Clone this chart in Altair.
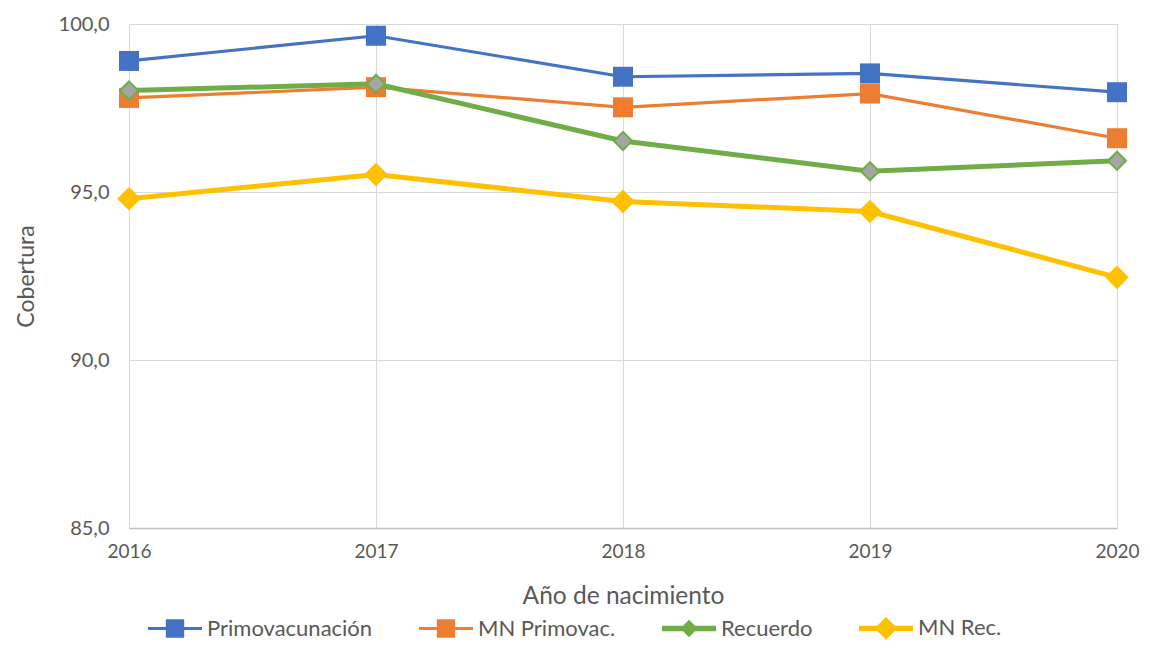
import altair as alt
import pandas as pd

years = [2016, 2017, 2018, 2019, 2020]
series_names = ["Primovacunación", "MN Primovac.", "Recuerdo", "MN Rec."]
primovacunacion = [98.9, 99.65, 98.43, 98.53, 97.97]
mn_primovac = [97.8, 98.12, 97.52, 97.93, 96.6]
recuerdo = [98.02, 98.22, 96.52, 95.62, 95.93]
mn_rec = [94.8, 95.52, 94.72, 94.42, 92.46]

values = [primovacunacion, mn_primovac, recuerdo, mn_rec]
colors = ["#4472C4", "#ED7D31", "#70AD47", "#FFC000"]
fills = ["#4472C4", "#ED7D31", "#A5A5A5", "#FFC000"]
shapes = ["square", "square", "diamond", "diamond"]
sizes = [400, 400, 330, 560]
widths = [3.2, 3.2, 5, 5]

rows = []
for name, vals in zip(series_names, values):
    for y, v in zip(years, vals):
        rows.append({"series": name, "year": y, "value": v})
df = pd.DataFrame(rows)

FONT = "Lato"
TXT = "#595959"

sq_path = "M-1,-0.06H1V0.06H-1Z M-0.34,-0.34H0.34V0.34H-0.34Z"
dm_small = "M-1,-0.1H1V0.1H-1Z M0,-0.32L0.32,0L0,0.32L-0.32,0Z"
dm_big = "M-1,-0.1H1V0.1H-1Z M0,-0.42L0.42,0L0,0.42L-0.42,0Z"
legend_shapes = [sq_path, sq_path, dm_small, dm_big]

legend = alt.Legend(
    orient="none",
    legendX=19,
    legendY=577,
    direction="horizontal",
    columns=4,
    title=None,
    padding=0,
    symbolSize=2916,
    symbolStrokeWidth=0,
    symbolOpacity=1,
    labelFont=FONT,
    labelFontSize=22,
    labelColor=TXT,
    labelOffset=5,
    labelLimit=400,
    columnPadding=46,
)

x_enc = alt.X(
    "year:Q",
    scale=alt.Scale(domain=[2016, 2020], nice=False, zero=False),
    axis=alt.Axis(
        values=years,
        format="d",
        title="Año de nacimiento",
        titleFont=FONT,
        titleFontSize=24.5,
        titleFontWeight="normal",
        titleColor=TXT,
        titlePadding=23,
        labelFont=FONT,
        labelFontSize=19,
        labelColor=TXT,
        labelPadding=14,
        ticks=False,
        domainColor="#bfbfbf",
        domainWidth=1.5,
        gridColor="#d9d9d9",
        labelFlush=False,
    ),
)
y_enc = alt.Y(
    "value:Q",
    scale=alt.Scale(domain=[85, 100], nice=False, zero=False),
    axis=alt.Axis(
        values=[85, 90, 95, 100],
        labelExpr="replace(format(datum.value, '.1f'), '.', ',')",
        title="Cobertura",
        titleFont=FONT,
        titleFontSize=23,
        titleFontWeight="normal",
        titleColor=TXT,
        titlePadding=20,
        labelFont=FONT,
        labelFontSize=20,
        labelColor=TXT,
        labelPadding=20,
        ticks=False,
        domain=False,
        gridColor="#d9d9d9",
    ),
)

layers = []
legend_layer = alt.Chart(df).mark_point(size=0, filled=True, opacity=0).encode(
    x=x_enc,
    y=y_enc,
    color=alt.Color("series:N", scale=alt.Scale(domain=series_names, range=colors), legend=legend),
    shape=alt.Shape("series:N", scale=alt.Scale(domain=series_names, range=legend_shapes), legend=legend),
)
layers.append(legend_layer)

for i, name in enumerate(series_names):
    sub = df[df["series"] == name]
    line = alt.Chart(sub).mark_line(strokeWidth=widths[i], color=colors[i]).encode(
        x=alt.X("year:Q"), y=alt.Y("value:Q"),
    )
    pts = alt.Chart(sub).mark_point(
        shape=shapes[i],
        size=sizes[i],
        filled=True,
        fill=fills[i],
        stroke=colors[i],
        strokeWidth=2 if name == "Recuerdo" else 0,
        opacity=1,
    ).encode(x=alt.X("year:Q"), y=alt.Y("value:Q"))
    layers += [line, pts]

chart = alt.layer(*layers).properties(
    width=988,
    height=504,
    autosize=alt.AutoSizeParams(type="none"),
    padding={"left": 121, "top": 16, "right": 25, "bottom": 113},
).configure_view(stroke=None).configure(background="white")

chart.save("out.html", embed_options={"renderer": "svg", "actions": False})
